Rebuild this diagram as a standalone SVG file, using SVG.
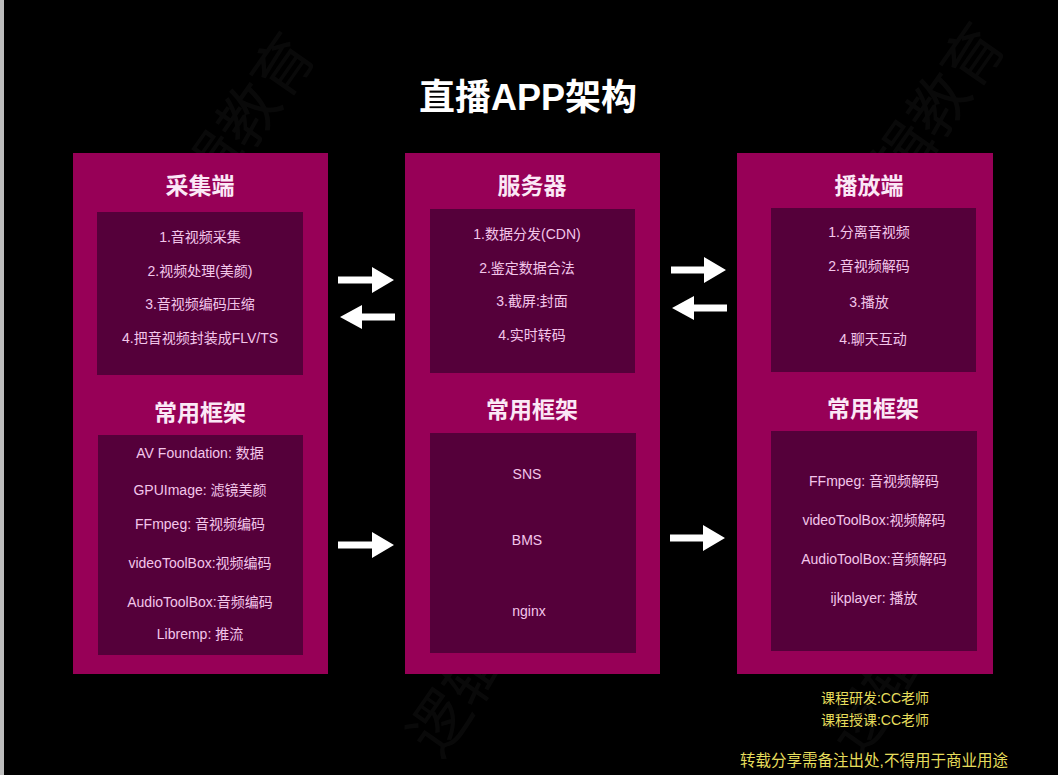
<svg xmlns="http://www.w3.org/2000/svg" width="1058" height="775" viewBox="0 0 1058 775">
<defs>
<style>
.outer{fill:#970057}
.inner{fill:#55003a}
.title{font-family:"Liberation Sans","Noto Sans CJK SC",sans-serif;font-weight:bold;fill:#ffffff;text-anchor:middle}
.hdr{font-family:"Noto Sans CJK SC","Noto Sans",sans-serif;font-weight:bold;font-size:23px;fill:#fbe8f6;text-anchor:middle}
.item{font-family:"Liberation Sans","Noto Sans CJK SC",sans-serif;font-size:14px;fill:#f3c6ea;text-anchor:middle}
.foot{font-family:"Liberation Sans","Noto Sans CJK SC",sans-serif;font-size:14px;fill:#e6dd5c;text-anchor:middle}
.foot2{font-family:"Liberation Sans","Noto Sans CJK SC",sans-serif;font-size:15.5px;fill:#e6dd5c;text-anchor:middle}
.wm{font-family:"Noto Sans CJK SC",sans-serif;font-size:60px;fill:#ffffff;opacity:0.035}
.arrow{fill:#ffffff}
</style>
</defs>
<rect x="0" y="0" width="1058" height="775" fill="#000000"/>
<rect x="0" y="0" width="4" height="775" fill="#bdbdbd"/>
<g id="watermark">
<text class="wm" transform="translate(180,250) rotate(-55)">逻辑教育</text>
<text class="wm" transform="translate(870,240) rotate(-55)">逻辑教育</text>
<text class="wm" transform="translate(440,760) rotate(-55)">逻辑教育</text>
<text class="wm" transform="translate(860,760) rotate(-55)">逻辑教育</text>
</g>
<text class="title" x="528" y="110" font-size="36">直播APP架构</text>
<g id="capture">
<rect class="outer" x="73" y="153" width="255" height="521"/>
<text class="hdr" x="200" y="194">采集端</text>
<rect class="inner" x="97" y="212" width="206" height="163"/>
<text class="item" x="200" y="242">1.音视频采集</text>
<text class="item" x="200" y="276">2.视频处理(美颜)</text>
<text class="item" x="200" y="309">3.音视频编码压缩</text>
<text class="item" x="200" y="343">4.把音视频封装成FLV/TS</text>
<text class="hdr" x="200" y="421">常用框架</text>
<rect class="inner" x="98" y="435" width="205" height="220"/>
<text class="item" x="200" y="458">AV Foundation: 数据</text>
<text class="item" x="200" y="495">GPUImage: 滤镜美颜</text>
<text class="item" x="200" y="529">FFmpeg: 音视频编码</text>
<text class="item" x="200" y="568">videoToolBox:视频编码</text>
<text class="item" x="200" y="607">AudioToolBox:音频编码</text>
<text class="item" x="200" y="639">Libremp: 推流</text>
</g>
<g id="server">
<rect class="outer" x="405" y="153" width="255" height="521"/>
<text class="hdr" x="532" y="194">服务器</text>
<rect class="inner" x="430" y="209" width="205" height="164"/>
<text class="item" x="527" y="239">1.数据分发(CDN)</text>
<text class="item" x="527" y="273">2.鉴定数据合法</text>
<text class="item" x="532" y="306">3.截屏:封面</text>
<text class="item" x="532" y="340">4.实时转码</text>
<text class="hdr" x="532" y="418">常用框架</text>
<rect class="inner" x="430" y="433" width="206" height="220"/>
<text class="item" x="527" y="479">SNS</text>
<text class="item" x="527" y="545">BMS</text>
<text class="item" x="529" y="616">nginx</text>
</g>
<g id="player">
<rect class="outer" x="737" y="153" width="256" height="521"/>
<text class="hdr" x="869" y="194">播放端</text>
<rect class="inner" x="771" y="208" width="205" height="164"/>
<text class="item" x="869" y="237">1.分离音视频</text>
<text class="item" x="869" y="271">2.音视频解码</text>
<text class="item" x="869" y="307">3.播放</text>
<text class="item" x="873" y="344">4.聊天互动</text>
<text class="hdr" x="873" y="417">常用框架</text>
<rect class="inner" x="771" y="431" width="206" height="220"/>
<text class="item" x="874" y="486">FFmpeg: 音视频解码</text>
<text class="item" x="874" y="525">videoToolBox:视频解码</text>
<text class="item" x="874" y="564">AudioToolBox:音频解码</text>
<text class="item" x="874" y="603">ijkplayer: 播放</text>
</g>
<g id="connectors">
<polygon class="arrow" points="338,276.5 372,276.5 372,267 394,280 372,293 372,283.5 338,283.5"/>
<polygon class="arrow" points="395,313.5 362,313.5 362,305 340,317 362,329 362,320.5 395,320.5"/>
<polygon class="arrow" points="671,266.5 704,266.5 704,257 726,270 704,283 704,273.5 671,273.5"/>
<polygon class="arrow" points="727,304.5 694,304.5 694,296 672,308 694,320 694,311.5 727,311.5"/>
<polygon class="arrow" points="338,541.5 372,541.5 372,532 394,545 372,558 372,548.5 338,548.5"/>
<polygon class="arrow" points="670,534.5 703,534.5 703,525 725,538 703,551 703,541.5 670,541.5"/>
</g>
<g id="footer">
<text class="foot" x="875" y="703">课程研发:CC老师</text>
<text class="foot" x="875" y="725">课程授课:CC老师</text>
<text class="foot2" x="874" y="766">转载分享需备注出处,不得用于商业用途</text>
</g>
</svg>
